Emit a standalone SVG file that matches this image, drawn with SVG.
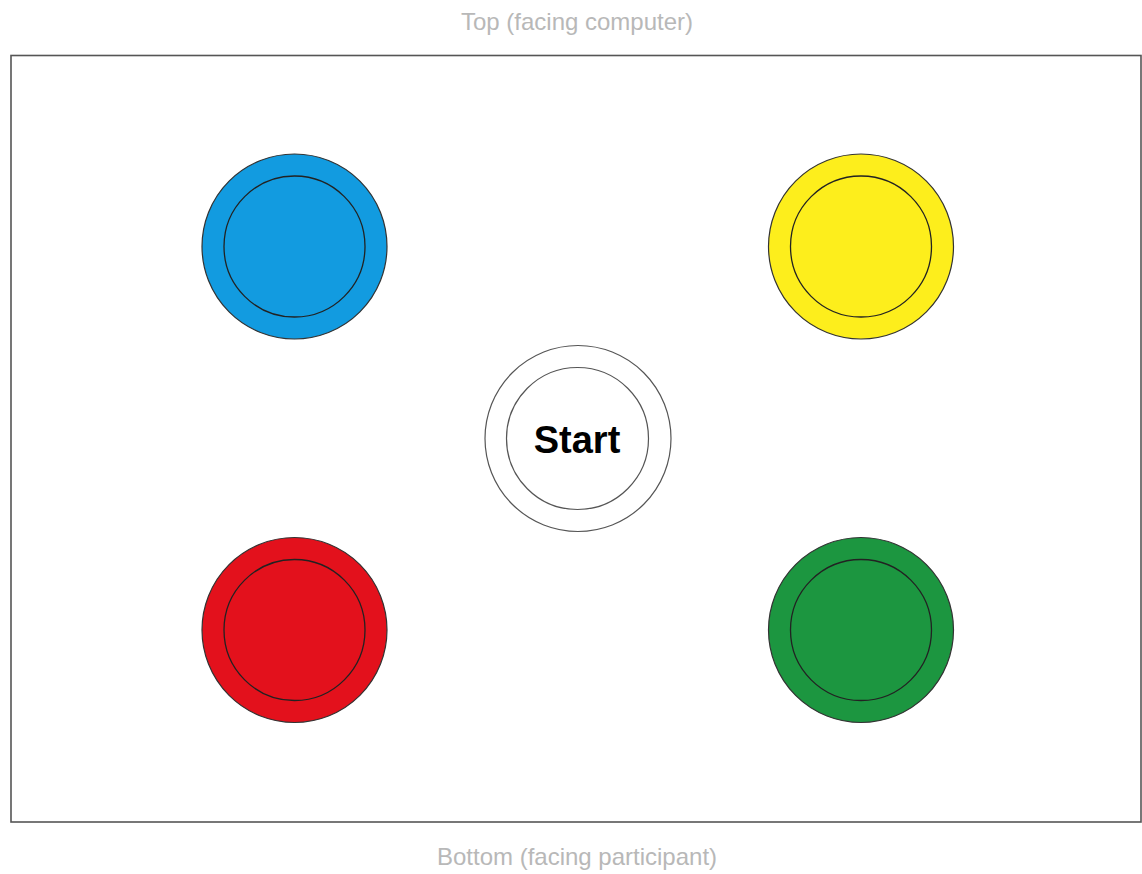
<svg xmlns="http://www.w3.org/2000/svg" width="1142" height="874" viewBox="0 0 1142 874">
<style>
.lbl{font-family:"Liberation Sans",Arial,sans-serif;font-size:24px;fill:#b8b8b8;text-anchor:middle}
.outer{stroke:#333;stroke-width:1.2}
.inner{fill:none;stroke:#222;stroke-width:1.3}
.st{font-family:"Liberation Sans",Arial,sans-serif;font-size:38px;font-weight:bold;fill:#000;text-anchor:middle}
</style>
<rect width="1142" height="874" fill="#fff"/>
<text class="lbl" x="577" y="30">Top (facing computer)</text>
<rect x="11" y="55.5" width="1130" height="766.5" fill="#fff" stroke="#555" stroke-width="1.6"/>
<g id="blue">
<circle class="outer" cx="294.5" cy="246.5" r="92.5" fill="#129be0"/>
<circle class="inner" cx="294.5" cy="246.5" r="70.5"/>
</g>
<g id="yellow">
<circle class="outer" cx="861" cy="246.5" r="92.5" fill="#fdee1c"/>
<circle class="inner" cx="861" cy="246.5" r="70.5"/>
</g>
<g id="start">
<circle cx="578" cy="438.5" r="93" fill="#fff" stroke="#555" stroke-width="1.2"/>
<circle cx="577.5" cy="438.5" r="71" fill="none" stroke="#555" stroke-width="1.2"/>
<text class="st" x="577" y="453">Start</text>
</g>
<g id="red">
<circle class="outer" cx="294.5" cy="630" r="92.5" fill="#e3111c"/>
<circle class="inner" cx="294.5" cy="630" r="70.5"/>
</g>
<g id="green">
<circle class="outer" cx="861" cy="630" r="92.5" fill="#1c9640"/>
<circle class="inner" cx="861" cy="630" r="70.5"/>
</g>
<g id="connectors"></g>
<text class="lbl" x="577" y="865">Bottom (facing participant)</text>
</svg>
